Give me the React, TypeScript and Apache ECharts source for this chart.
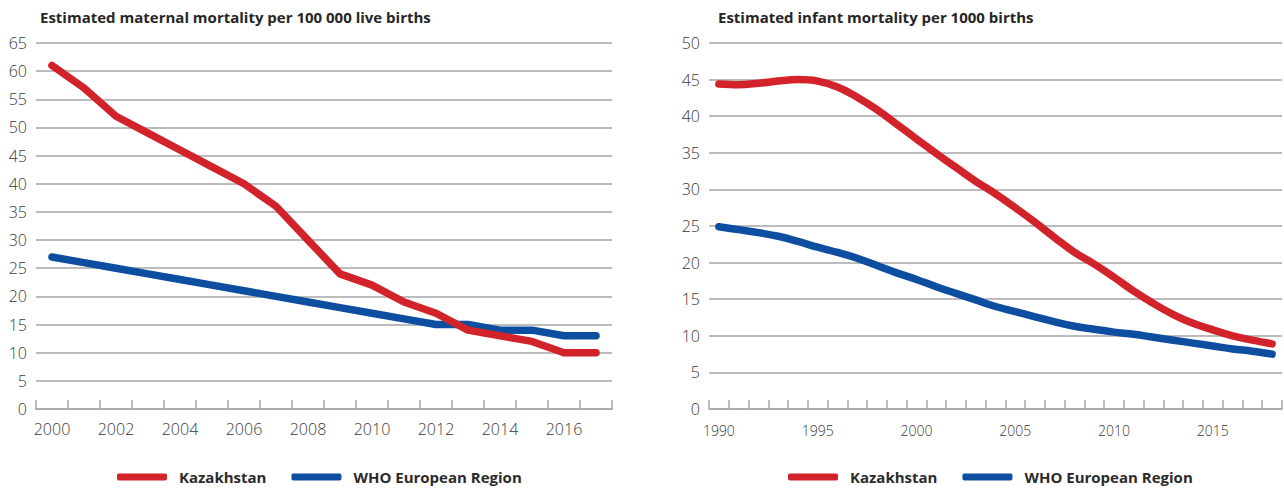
import React, { useEffect, useRef } from "react";
import * as echarts from "echarts";

const maternalYears = ["2000","2001","2002","2003","2004","2005","2006","2007","2008","2009","2010","2011","2012","2013","2014","2015","2016","2017"];
const maternalKaz = [61, 57, 52, 49, 46, 43, 40, 36, 30, 24, 22, 19, 17, 14, 13, 12, 10, 10];
const maternalWho = [27, 26, 25, 24, 23, 22, 21, 20, 19, 18, 17, 16, 15, 15, 14, 14, 13, 13];

const infantYears = ["1990","1991","1992","1993","1994","1995","1996","1997","1998","1999","2000","2001","2002","2003","2004","2005","2006","2007","2008","2009","2010","2011","2012","2013","2014","2015","2016","2017","2018"];
const infantKaz = [44.4, 44.3, 44.5, 44.8, 45.0, 44.8, 44.0, 42.6, 40.9, 38.9, 36.9, 34.9, 33.0, 31.1, 29.4, 27.5, 25.5, 23.4, 21.4, 19.8, 18.0, 16.1, 14.4, 12.9, 11.7, 10.8, 10.0, 9.4, 8.9];
const infantWho = [24.9, 24.5, 24.1, 23.6, 22.9, 22.1, 21.4, 20.6, 19.6, 18.6, 17.7, 16.7, 15.8, 14.9, 14.0, 13.3, 12.6, 11.9, 11.3, 10.9, 10.5, 10.2, 9.8, 9.4, 9.0, 8.6, 8.2, 7.9, 7.5];

const titles = ["Estimated maternal mortality per 100 000 live births", "Estimated infant mortality per 1000 births"];
const seriesNames = ["Kazakhstan", "WHO European Region"];

const RED = "#d2232a";
const BLUE = "#0d4ea0";
const GRID = "#a6a6a6";
const LABEL = "#3a3a3a";
const FONT = "'Open Sans', sans-serif";

export default function App() {
  const ref = useRef<HTMLDivElement>(null);
  useEffect(() => {
    if (!ref.current) return;
    const chart = echarts.init(ref.current, undefined, { renderer: "svg" });
    const yAxisBase = (max: number) => ({
      type: "value" as const,
      min: 0,
      max,
      interval: 5,
      axisLine: { show: false },
      axisTick: { show: false },
      axisLabel: { color: LABEL, fontSize: 16, fontFamily: FONT, fontWeight: 300, margin: 9 },
      splitLine: { show: true, lineStyle: { color: GRID, width: 1.5 } },
    });
    const xAxisBase = (data: string[], labelInterval: number, fontSize: number, margin: number) => ({
      type: "category" as const,
      data,
      boundaryGap: true,
      axisLine: { show: true, lineStyle: { color: GRID, width: 1.5 } },
      axisTick: { show: true, inside: true, length: 9, interval: 0, lineStyle: { color: GRID, width: 1.5 } },
      axisLabel: { interval: labelInterval, color: LABEL, fontSize, fontFamily: FONT, fontWeight: 300, margin },
      splitLine: { show: false },
    });
    const lineSeries = (name: string, data: number[], color: string, idx: number, smooth: boolean) => ({
      type: "line" as const,
      name,
      data,
      xAxisIndex: idx,
      yAxisIndex: idx,
      symbol: "none",
      smooth: smooth ? 0.4 : false,
      lineStyle: { color, width: 7.5, cap: "round", join: "round" },
      itemStyle: { color },
    });
    const legendBase = (left: number) => ({
      left,
      top: 468,
      padding: 0,
      icon: "roundRect",
      itemWidth: 50,
      itemHeight: 7,
      itemGap: 25,
      data: seriesNames,
      selectedMode: false,
      textStyle: { color: "#2b2b2b", fontSize: 15, fontWeight: "bold", fontFamily: FONT, padding: [0, 0, 0, 7], lineHeight: 18 },
    });
    const titleStyle = { fontSize: 15, fontWeight: "bold", color: "#262626", fontFamily: FONT };
    chart.setOption({
      animation: false,
      backgroundColor: "#ffffff",
      title: [
        { text: titles[0], left: 40, top: 9, padding: 0, textStyle: titleStyle },
        { text: titles[1], left: 718, top: 9, padding: 0, textStyle: titleStyle },
      ],
      legend: [legendBase(117), legendBase(788)],
      grid: [
        { left: 36, right: 1284 - 612, top: 43, bottom: 490 - 409, containLabel: false },
        { left: 709, right: 2, top: 43, bottom: 490 - 409, containLabel: false },
      ],
      xAxis: [
        { ...xAxisBase(maternalYears, 1, 16, 12), gridIndex: 0 },
        { ...xAxisBase(infantYears, 4, 14, 14), gridIndex: 1 },
      ],
      yAxis: [
        { ...yAxisBase(65), gridIndex: 0 },
        { ...yAxisBase(50), gridIndex: 1 },
      ],
      series: [
        lineSeries(seriesNames[1], maternalWho, BLUE, 0, false),
        lineSeries(seriesNames[0], maternalKaz, RED, 0, false),
        lineSeries(seriesNames[1], infantWho, BLUE, 1, true),
        lineSeries(seriesNames[0], infantKaz, RED, 1, true),
      ],
    });
    return () => chart.dispose();
  }, []);
  return <div ref={ref} style={{ position: "absolute", left: 0, top: 0, width: 1284, height: 490 }} />;
}
